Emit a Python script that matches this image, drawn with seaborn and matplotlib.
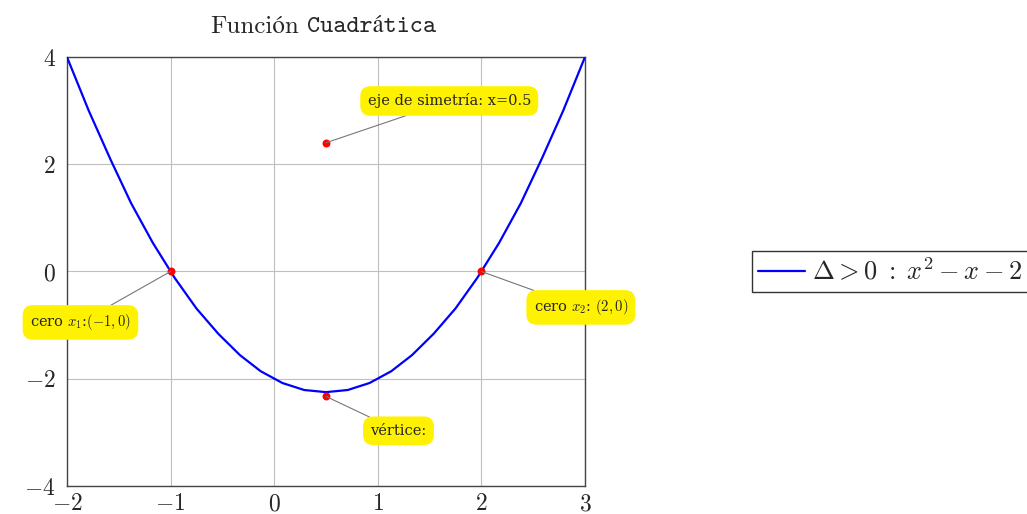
import numpy as np
import pandas as pd
import matplotlib
matplotlib.use("Agg")
import matplotlib.pyplot as plt
import seaborn as sns

# valores (25 muestras de la curva)
x_vals = [-2.0, -1.79, -1.58, -1.38, -1.17, -0.96, -0.75, -0.54, -0.33, -0.13,
          0.08, 0.29, 0.5, 0.71, 0.92, 1.13, 1.33, 1.54, 1.75, 1.96,
          2.17, 2.38, 2.58, 2.79, 3.0]
y_vals = [4.0, 3.0, 2.09, 1.27, 0.53, -0.12, -0.69, -1.16, -1.56, -1.86,
          -2.08, -2.21, -2.25, -2.21, -2.08, -1.86, -1.56, -1.16, -0.69, -0.12,
          0.53, 1.27, 2.09, 3.0, 4.0]

# puntos marcados y sus etiquetas
pt_x = [-1.0, 2.0, 0.5, 0.5]
pt_y = [0.0, 0.0, -2.33, 2.4]
pt_labels = [r"cero $x_1$:$(-1,0)$", r"cero $x_2$: $(2,0)$", "vértice:",
             "eje de simetría: x=0.5"]
label_pos = [(-1.87, -0.95), (2.96, -0.67), (1.2, -2.97), (1.69, 3.18)]

x_ticks = [-2, -1, 0, 1, 2, 3]
y_ticks = [-4, -2, 0, 2, 4]

sns.set_style("white")
plt.rcParams["mathtext.fontset"] = "cm"
plt.rcParams["font.family"] = ["cmr10", "STIXGeneral", "DejaVu Serif"]
plt.rcParams["axes.formatter.use_mathtext"] = True

df = pd.DataFrame({"x": x_vals, "y": y_vals})

fig = plt.figure(figsize=(10.27, 5.14), dpi=100)
ax = fig.add_axes([0.0652, 0.0545, 0.5044, 0.8346])

sns.lineplot(data=df, x="x", y="y", ax=ax, color="blue", lw=1.6,
             label=r"$\Delta > 0 \;:\; x^2 - x - 2$", zorder=3)
ax.scatter(pt_x, pt_y, color="red", s=22, zorder=5)

for px, py, lab, (tx, ty) in zip(pt_x, pt_y, pt_labels, label_pos):
    ax.annotate(lab, xy=(px, py), xytext=(tx, ty), ha="center", va="center",
                fontsize=10.5, family="DejaVu Serif",
                bbox=dict(boxstyle="round,pad=0.5,rounding_size=0.7",
                          fc="#fff200", ec="none"),
                arrowprops=dict(arrowstyle="-", color="#777777", lw=0.8,
                                shrinkA=0, shrinkB=0),
                annotation_clip=False, zorder=6)

ax.set_xlim(-2, 3)
ax.set_ylim(-4, 4)
ax.set_xticks(x_ticks)
ax.set_yticks(y_ticks)
ax.set_xticklabels([f"${t}$" for t in x_ticks], fontsize=17)
ax.set_yticklabels([f"${t}$" for t in y_ticks], fontsize=17)
ax.tick_params(axis="x", length=0, pad=5)
ax.tick_params(axis="y", length=0, pad=8)
ax.grid(True, color="#bfbfbf", lw=0.8)
for s in ax.spines.values():
    s.set_color("#444444")
    s.set_linewidth(1.0)
ax.set_xlabel("")
ax.set_ylabel("")

fig.text(0.291, 0.947, "Función", ha="right", va="center", fontsize=18,
         family=["cmr10", "STIXGeneral"])
fig.text(0.299, 0.947, "Cuadrática", ha="left", va="center", fontsize=18,
         family=["cmtt10", "STIXGeneral"])

leg = ax.legend(loc="center left", bbox_to_anchor=(1.322, 0.5), fontsize=19,
                frameon=True, fancybox=False, handlelength=1.75,
                borderpad=0.25, handletextpad=0.3, borderaxespad=0)
leg.get_frame().set_edgecolor("black")
leg.get_frame().set_linewidth(1.0)

fig.savefig("out.png", dpi=100)
